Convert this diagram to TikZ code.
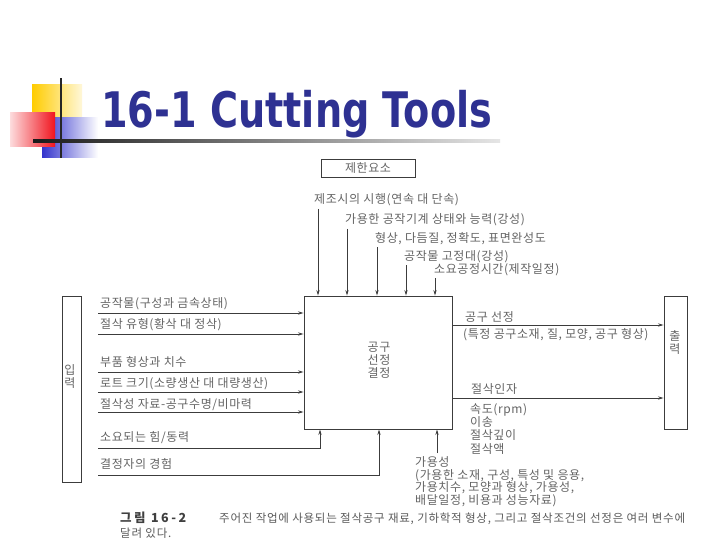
\documentclass[tikz,border=0pt]{standalone}
\usepackage{graphicx}
\usepackage{fontspec}
\setmainfont{Noto Sans CJK KR}[LetterSpace=5]
\newfontfamily\titlefont{DejaVu Sans}
\usetikzlibrary{arrows.meta}
\definecolor{titleblue}{RGB}{46,49,146}
\definecolor{ink}{RGB}{60,60,60}
\definecolor{txt}{RGB}{100,100,100}
\definecolor{capink}{RGB}{90,90,90}
\definecolor{deco yellow}{RGB}{255,204,0}
\definecolor{deco blue}{RGB}{51,51,204}
\definecolor{deco red}{RGB}{240,20,30}
\begin{document}
\begin{tikzpicture}[x=1pt,y=-1pt,
  lbl/.style={anchor=base west, inner sep=0pt, font=\fontsize{12}{12}\selectfont, text=txt},
  ln/.style={draw=ink, line width=0.8pt},
  arr/.style={ln, -{Stealth[length=5.5pt,width=3.2pt]}},
  boxst/.style={draw=ink, line width=0.9pt, inner sep=0pt},
  stack/.style={inner sep=0pt, align=center, font=\fontsize{12}{13}\selectfont, text=txt}]
\useasboundingbox (0,0) rectangle (720,540);
\fill[white] (0,0) rectangle (720,540);

% title decoration
\shade[left color=deco yellow, right color=deco yellow!15] (32,85) rectangle (82,120);
\shade[left color=deco blue, right color=white] (42,118) rectangle (98,158);
\shade[left color=deco red!15, right color=deco red] (10,113) rectangle (55,147);
\shade[left color=black!90, right color=black!10] (33,140) rectangle (500,142.2);
\fill[black!85] (60,78) rectangle (62.4,158);
\node[anchor=base west, inner sep=0pt, text=titleblue] (title) at (101,128)
  {\scalebox{0.78}[1]{\titlefont\bfseries\fontsize{49}{49}\selectfont 16-1 Cutting Tools}};

% boxes
\node[boxst, minimum width=94pt, minimum height=18pt, font=\fontsize{12}{12}\selectfont, text=txt] (con) at (368,168) {제한요소};
\node[boxst, minimum width=148pt, minimum height=133pt] (main) at (378,362.5) {};
\node[stack] (dec) at (379,360) {공구\\선정\\결정};
\node[boxst, minimum width=19pt, minimum height=186pt] (inbox) at (71.5,389) {};
\node[stack] (inlbl) at (70,377) {입\\력};
\node[boxst, minimum width=23pt, minimum height=133pt] (outbox) at (675.5,362.5) {};
\node[stack] (outlbl) at (675,342) {출\\력};

% constraints
\node[lbl] (c1) at (314,204) {제조시의 시행(연속 대 단속)};
\node[lbl] (c2) at (345,224) {가용한 공작기계 상태와 능력(강성)};
\node[lbl] (c3) at (375,242) {형상, 다듬질, 정확도, 표면완성도};
\node[lbl] (c4) at (404,260) {공작물 고정대(강성)};
\node[lbl] (c5) at (434,273) {소요공정시간(제작일정)};
\coordinate (k1) at (318,209);
\coordinate (k2) at (347,229);
\coordinate (k3) at (377,247);
\coordinate (k4) at (406,265);
\coordinate (k5) at (435,278);
\foreach \k in {k1,k2,k3,k4,k5} \draw[arr] (\k) -- (\k |- main.north);

% inputs
\node[lbl] (n1) at (100,307) {공작물(구성과 금속상태)};
\node[lbl] (n2) at (100,328) {절삭 유형(황삭 대 정삭)};
\node[lbl] (n3) at (100,366) {부품 형상과 치수};
\node[lbl] (n4) at (100,387) {로트 크기(소량생산 대 대량생산)};
\node[lbl] (n5) at (100,408) {절삭성 자료-공구수명/비마력};
\node[lbl] (n6) at (100,441) {소요되는 힘/동력};
\node[lbl] (n7) at (100,468) {결정자의 경험};
\coordinate (i1) at (98,313);
\coordinate (i2) at (98,334);
\coordinate (i3) at (98,372);
\coordinate (i4) at (98,392);
\coordinate (i5) at (98,412);
\foreach \i in {i1,i2,i3,i4,i5} \draw[arr] (\i) -- (\i -| main.west);
\coordinate (i6) at (98,448);
\coordinate (b1) at (320,448);
\draw[arr] (i6) -- (b1) -- (b1 |- main.south);
\coordinate (i7) at (98,475);
\coordinate (b2) at (379,475);
\draw[arr] (i7) -- (b2) -- (b2 |- main.south);
\coordinate (b3) at (437,453);
\draw[arr] (b3) -- (b3 |- main.south);

% outputs
\node[lbl] (o1) at (465,321) {공구 선정};
\node[lbl] (o1b) at (463,338) {(특정 공구소재, 질, 모양, 공구 형상)};
\coordinate (o1l) at (452,325);
\draw[arr] (o1l) -- (o1l -| outbox.west);
\node[lbl] (o2) at (471,393) {절삭인자};
\coordinate (o2l) at (452,398);
\draw[arr] (o2l) -- (o2l -| outbox.west);
\node[lbl] (o2a) at (470,413) {속도(rpm)};
\node[lbl] (o2b) at (470,426) {이송};
\node[lbl] (o2c) at (470,439.5) {절삭깊이};
\node[lbl] (o2d) at (470,453) {절삭액};

% availability
\node[lbl] (a1) at (415,466) {가용성};
\node[lbl] (a2) at (415,479) {(가용한 소재, 구성, 특성 및 응용,};
\node[lbl] (a3) at (415,491.5) {가용치수, 모양과 형상, 가용성,};
\node[lbl] (a4) at (415,504) {배달일정, 비용과 성능자료)};

% caption
\node[anchor=base west, inner sep=0pt, font=\fontsize{12.5}{13}\selectfont\bfseries\addfontfeatures{LetterSpace=20}, text=black!75] (fig) at (120,522) {그림 16-2};
\node[anchor=base west, inner sep=0pt, font=\fontsize{11.5}{12}\selectfont\addfontfeatures{LetterSpace=6.5}, text=capink] (cap1) at (219,522) {주어진 작업에 사용되는 절삭공구 재료, 기하학적 형상, 그리고 절삭조건의 선정은 여러 변수에};
\node[anchor=base west, inner sep=0pt, font=\fontsize{11.5}{12}\selectfont\addfontfeatures{LetterSpace=6.5}, text=capink] (cap2) at (120,537) {달려 있다.};
\end{tikzpicture}
\end{document}
